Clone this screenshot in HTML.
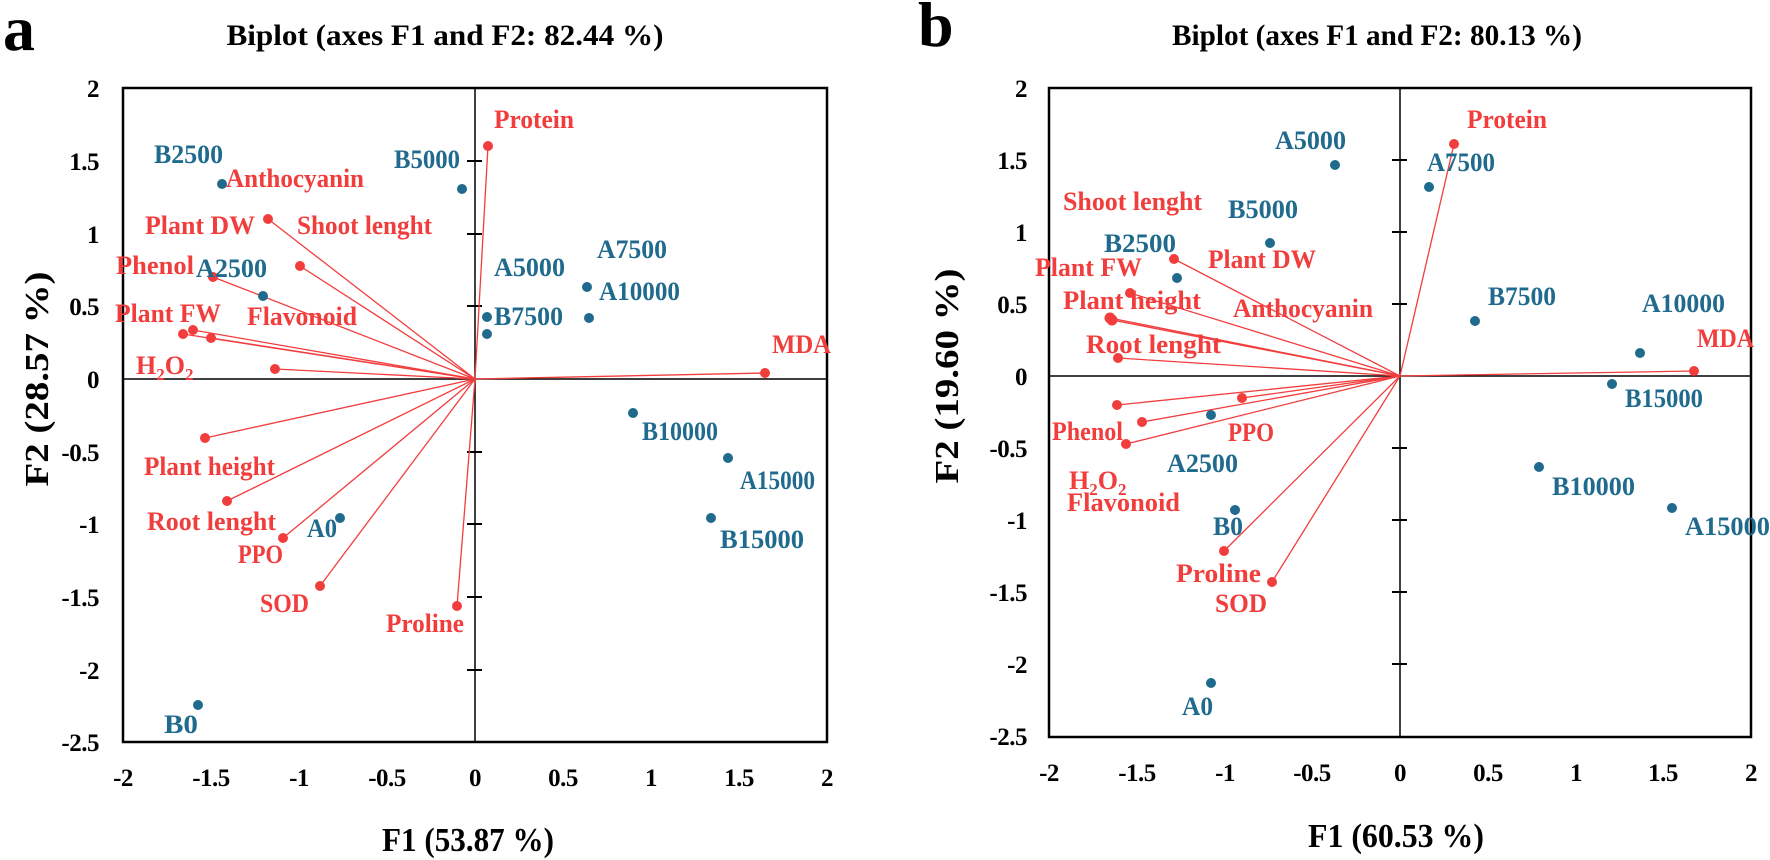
<!DOCTYPE html>
<html><head><meta charset="utf-8"><style>
html,body{margin:0;padding:0;background:#fff;}
svg{display:block;}
text{font-family:"Liberation Serif",serif;font-weight:bold;}
.r{fill:#f23d3d;font-size:26px;}
.b{fill:#1f6a8d;font-size:26px;}
.t{fill:#000;font-size:25px;letter-spacing:-0.5px;}
</style></head><body>
<svg width="1770" height="860" viewBox="0 0 1770 860" xmlns="http://www.w3.org/2000/svg">
<!-- Panel a -->
<text x="3" y="50" style="font-size:64px">a</text>
<text x="445" y="45" text-anchor="middle" textLength="437" lengthAdjust="spacingAndGlyphs" style="font-size:30px">Biplot (axes F1 and F2: 82.44 %)</text>
<rect x="123" y="88" width="704" height="654" fill="none" stroke="#000" stroke-width="2.5"/>
<line x1="123" y1="379" x2="827" y2="379" stroke="#000" stroke-width="1.5"/>
<line x1="475" y1="88" x2="475" y2="742" stroke="#000" stroke-width="1.5"/>
<g stroke="#000" stroke-width="2">
<line x1="467" y1="161" x2="482" y2="161"/><line x1="467" y1="234" x2="482" y2="234"/><line x1="467" y1="306" x2="482" y2="306"/>
<line x1="467" y1="452" x2="482" y2="452"/><line x1="467" y1="524" x2="482" y2="524"/><line x1="467" y1="597" x2="482" y2="597"/><line x1="467" y1="670" x2="482" y2="670"/>
</g>
<g text-anchor="end">
<text x="99" y="97" class="t">2</text><text x="99" y="170" class="t">1.5</text><text x="99" y="243" class="t">1</text><text x="99" y="315" class="t">0.5</text><text x="99" y="388" class="t">0</text><text x="99" y="461" class="t">-0.5</text><text x="99" y="533" class="t">-1</text><text x="99" y="606" class="t">-1.5</text><text x="99" y="679" class="t">-2</text><text x="99" y="751" class="t">-2.5</text>
</g>
<g text-anchor="middle">
<text x="123" y="786" class="t">-2</text><text x="211" y="786" class="t">-1.5</text><text x="299" y="786" class="t">-1</text><text x="387" y="786" class="t">-0.5</text><text x="475" y="786" class="t">0</text><text x="563" y="786" class="t">0.5</text><text x="651" y="786" class="t">1</text><text x="739" y="786" class="t">1.5</text><text x="827" y="786" class="t">2</text>
</g>
<text x="468" y="851" text-anchor="middle" textLength="172" lengthAdjust="spacingAndGlyphs" style="font-size:34px">F1 (53.87 %)</text>
<text transform="translate(48,379) rotate(-90)" text-anchor="middle" textLength="215" lengthAdjust="spacingAndGlyphs" style="font-size:34px">F2 (28.57 %)</text>
<g stroke="#f23d3d" stroke-width="1.3">
<line x1="475" y1="379" x2="488" y2="146"/>
<line x1="475" y1="379" x2="268" y2="219"/>
<line x1="475" y1="379" x2="300" y2="266"/>
<line x1="475" y1="379" x2="213" y2="277"/>
<line x1="475" y1="379" x2="183" y2="334"/>
<line x1="475" y1="379" x2="193" y2="330"/>
<line x1="475" y1="379" x2="211" y2="338"/>
<line x1="475" y1="379" x2="275" y2="369"/>
<line x1="475" y1="379" x2="765" y2="373"/>
<line x1="475" y1="379" x2="205" y2="438"/>
<line x1="475" y1="379" x2="227" y2="501"/>
<line x1="475" y1="379" x2="283" y2="538"/>
<line x1="475" y1="379" x2="320" y2="586"/>
<line x1="475" y1="379" x2="457" y2="606"/>
</g>
<g fill="#f23d3d">
<circle cx="488" cy="146" r="5"/><circle cx="268" cy="219" r="5"/><circle cx="300" cy="266" r="5"/><circle cx="213" cy="277" r="5"/><circle cx="183" cy="334" r="5"/><circle cx="193" cy="330" r="5"/><circle cx="211" cy="338" r="5"/><circle cx="275" cy="369" r="5"/><circle cx="765" cy="373" r="5"/><circle cx="205" cy="438" r="5"/><circle cx="227" cy="501" r="5"/><circle cx="283" cy="538" r="5"/><circle cx="320" cy="586" r="5"/><circle cx="457" cy="606" r="5"/>
</g>
<g fill="#1f6a8d">
<circle cx="222" cy="184" r="5"/><circle cx="462" cy="189" r="5"/><circle cx="263" cy="296" r="5"/><circle cx="487" cy="317" r="5"/><circle cx="487" cy="334" r="5"/><circle cx="587" cy="287" r="5"/><circle cx="589" cy="318" r="5"/><circle cx="633" cy="413" r="5"/><circle cx="728" cy="458" r="5"/><circle cx="711" cy="518" r="5"/><circle cx="340" cy="518" r="5"/><circle cx="198" cy="705" r="5"/>
</g>
<text x="494" y="128" class="r" textLength="80" lengthAdjust="spacingAndGlyphs">Protein</text>
<text x="154" y="163" class="b" textLength="69" lengthAdjust="spacingAndGlyphs">B2500</text>
<text x="226" y="187" class="r" textLength="138" lengthAdjust="spacingAndGlyphs">Anthocyanin</text>
<text x="394" y="168" class="b" textLength="66" lengthAdjust="spacingAndGlyphs">B5000</text>
<text x="145" y="234" class="r" textLength="110" lengthAdjust="spacingAndGlyphs">Plant DW</text>
<text x="297" y="234" class="r" textLength="135" lengthAdjust="spacingAndGlyphs">Shoot lenght</text>
<text x="116" y="274" class="r" textLength="78" lengthAdjust="spacingAndGlyphs">Phenol</text>
<text x="196" y="277" class="b" textLength="71" lengthAdjust="spacingAndGlyphs">A2500</text>
<text x="494" y="276" class="b" textLength="71" lengthAdjust="spacingAndGlyphs">A5000</text>
<text x="597" y="258" class="b" textLength="70" lengthAdjust="spacingAndGlyphs">A7500</text>
<text x="599" y="300" class="b" textLength="81" lengthAdjust="spacingAndGlyphs">A10000</text>
<text x="494" y="325" class="b" textLength="69" lengthAdjust="spacingAndGlyphs">B7500</text>
<text x="247" y="325" class="r" textLength="110" lengthAdjust="spacingAndGlyphs">Flavonoid</text>
<text x="115" y="322" class="r" textLength="106" lengthAdjust="spacingAndGlyphs">Plant FW</text>
<text x="136" y="374" class="r">H<tspan dy="6" style="font-size:17px">2</tspan><tspan dy="-6">O</tspan><tspan dy="6" style="font-size:17px">2</tspan></text>
<text x="772" y="353" class="r" textLength="59" lengthAdjust="spacingAndGlyphs">MDA</text>
<text x="642" y="440" class="b" textLength="76" lengthAdjust="spacingAndGlyphs">B10000</text>
<text x="144" y="475" class="r" textLength="131" lengthAdjust="spacingAndGlyphs">Plant height</text>
<text x="740" y="489" class="b" textLength="75" lengthAdjust="spacingAndGlyphs">A15000</text>
<text x="147" y="530" class="r" textLength="129" lengthAdjust="spacingAndGlyphs">Root lenght</text>
<text x="307" y="537" class="b" textLength="30" lengthAdjust="spacingAndGlyphs">A0</text>
<text x="720" y="548" class="b" textLength="84" lengthAdjust="spacingAndGlyphs">B15000</text>
<text x="238" y="563" class="r" textLength="45" lengthAdjust="spacingAndGlyphs">PPO</text>
<text x="260" y="612" class="r" textLength="49" lengthAdjust="spacingAndGlyphs">SOD</text>
<text x="386" y="632" class="r" textLength="78" lengthAdjust="spacingAndGlyphs">Proline</text>
<text x="164" y="733" class="b" textLength="34" lengthAdjust="spacingAndGlyphs">B0</text>

<!-- Panel b -->
<text x="918" y="46" style="font-size:64px">b</text>
<text x="1377" y="45" text-anchor="middle" textLength="410" lengthAdjust="spacingAndGlyphs" style="font-size:30px">Biplot (axes F1 and F2: 80.13 %)</text>
<rect x="1049" y="88" width="702" height="649" fill="none" stroke="#000" stroke-width="2.5"/>
<line x1="1049" y1="376" x2="1751" y2="376" stroke="#000" stroke-width="1.5"/>
<line x1="1400" y1="88" x2="1400" y2="737" stroke="#000" stroke-width="1.5"/>
<g stroke="#000" stroke-width="2">
<line x1="1392" y1="160" x2="1407" y2="160"/><line x1="1392" y1="232" x2="1407" y2="232"/><line x1="1392" y1="304" x2="1407" y2="304"/>
<line x1="1392" y1="448" x2="1407" y2="448"/><line x1="1392" y1="520" x2="1407" y2="520"/><line x1="1392" y1="592" x2="1407" y2="592"/><line x1="1392" y1="664" x2="1407" y2="664"/>
</g>
<g text-anchor="end">
<text x="1027" y="97" class="t">2</text><text x="1027" y="169" class="t">1.5</text><text x="1027" y="241" class="t">1</text><text x="1027" y="313" class="t">0.5</text><text x="1027" y="385" class="t">0</text><text x="1027" y="457" class="t">-0.5</text><text x="1027" y="529" class="t">-1</text><text x="1027" y="601" class="t">-1.5</text><text x="1027" y="673" class="t">-2</text><text x="1027" y="745" class="t">-2.5</text>
</g>
<g text-anchor="middle">
<text x="1049" y="781" class="t">-2</text><text x="1137" y="781" class="t">-1.5</text><text x="1225" y="781" class="t">-1</text><text x="1312" y="781" class="t">-0.5</text><text x="1400" y="781" class="t">0</text><text x="1488" y="781" class="t">0.5</text><text x="1576" y="781" class="t">1</text><text x="1663" y="781" class="t">1.5</text><text x="1751" y="781" class="t">2</text>
</g>
<text x="1396" y="847" text-anchor="middle" textLength="176" lengthAdjust="spacingAndGlyphs" style="font-size:34px">F1 (60.53 %)</text>
<text transform="translate(958,376) rotate(-90)" text-anchor="middle" textLength="215" lengthAdjust="spacingAndGlyphs" style="font-size:34px">F2 (19.60 %)</text>
<g stroke="#f23d3d" stroke-width="1.3">
<line x1="1400" y1="376" x2="1454" y2="144"/>
<line x1="1400" y1="376" x2="1174" y2="259"/>
<line x1="1400" y1="376" x2="1130" y2="293"/>
<line x1="1400" y1="376" x2="1110" y2="318"/>
<line x1="1400" y1="376" x2="1112" y2="320"/>
<line x1="1400" y1="376" x2="1118" y2="358"/>
<line x1="1400" y1="376" x2="1694" y2="371"/>
<line x1="1400" y1="376" x2="1242" y2="398"/>
<line x1="1400" y1="376" x2="1117" y2="405"/>
<line x1="1400" y1="376" x2="1142" y2="422"/>
<line x1="1400" y1="376" x2="1126" y2="444"/>
<line x1="1400" y1="376" x2="1224" y2="551"/>
<line x1="1400" y1="376" x2="1272" y2="582"/>
</g>
<g fill="#f23d3d">
<circle cx="1454" cy="144" r="5"/><circle cx="1174" cy="259" r="5"/><circle cx="1130" cy="293" r="5"/><circle cx="1110" cy="318" r="5.5"/><circle cx="1112" cy="320" r="5.5"/><circle cx="1118" cy="358" r="5"/><circle cx="1694" cy="371" r="5"/><circle cx="1242" cy="398" r="5"/><circle cx="1117" cy="405" r="5"/><circle cx="1142" cy="422" r="5"/><circle cx="1126" cy="444" r="5"/><circle cx="1224" cy="551" r="5"/><circle cx="1272" cy="582" r="5"/>
</g>
<g fill="#1f6a8d">
<circle cx="1335" cy="165" r="5"/><circle cx="1429" cy="187" r="5"/><circle cx="1270" cy="243" r="5"/><circle cx="1177" cy="278" r="5"/><circle cx="1475" cy="321" r="5"/><circle cx="1640" cy="353" r="5"/><circle cx="1612" cy="384" r="5"/><circle cx="1211" cy="415" r="5"/><circle cx="1235" cy="510" r="5"/><circle cx="1539" cy="467" r="5"/><circle cx="1672" cy="508" r="5"/><circle cx="1211" cy="683" r="5"/>
</g>
<text x="1467" y="128" class="r" textLength="80" lengthAdjust="spacingAndGlyphs">Protein</text>
<text x="1275" y="149" class="b" textLength="71" lengthAdjust="spacingAndGlyphs">A5000</text>
<text x="1427" y="171" class="b" textLength="68" lengthAdjust="spacingAndGlyphs">A7500</text>
<text x="1063" y="210" class="r" textLength="139" lengthAdjust="spacingAndGlyphs">Shoot lenght</text>
<text x="1228" y="218" class="b" textLength="70" lengthAdjust="spacingAndGlyphs">B5000</text>
<text x="1104" y="252" class="b" textLength="72" lengthAdjust="spacingAndGlyphs">B2500</text>
<text x="1208" y="268" class="r" textLength="108" lengthAdjust="spacingAndGlyphs">Plant DW</text>
<text x="1035" y="276" class="r" textLength="107" lengthAdjust="spacingAndGlyphs">Plant FW</text>
<text x="1063" y="309" class="r" textLength="138" lengthAdjust="spacingAndGlyphs">Plant height</text>
<text x="1233" y="317" class="r" textLength="140" lengthAdjust="spacingAndGlyphs">Anthocyanin</text>
<text x="1488" y="305" class="b" textLength="68" lengthAdjust="spacingAndGlyphs">B7500</text>
<text x="1642" y="312" class="b" textLength="83" lengthAdjust="spacingAndGlyphs">A10000</text>
<text x="1697" y="347" class="r" textLength="57" lengthAdjust="spacingAndGlyphs">MDA</text>
<text x="1086" y="353" class="r" textLength="135" lengthAdjust="spacingAndGlyphs">Root lenght</text>
<text x="1625" y="407" class="b" textLength="78" lengthAdjust="spacingAndGlyphs">B15000</text>
<text x="1052" y="440" class="r" textLength="71" lengthAdjust="spacingAndGlyphs">Phenol</text>
<text x="1228" y="441" class="r" textLength="46" lengthAdjust="spacingAndGlyphs">PPO</text>
<text x="1167" y="472" class="b" textLength="71" lengthAdjust="spacingAndGlyphs">A2500</text>
<text x="1069" y="489" class="r">H<tspan dy="6" style="font-size:17px">2</tspan><tspan dy="-6">O</tspan><tspan dy="6" style="font-size:17px">2</tspan></text>
<text x="1067" y="511" class="r" textLength="113" lengthAdjust="spacingAndGlyphs">Flavonoid</text>
<text x="1552" y="495" class="b" textLength="83" lengthAdjust="spacingAndGlyphs">B10000</text>
<text x="1213" y="535" class="b" textLength="30" lengthAdjust="spacingAndGlyphs">B0</text>
<text x="1685" y="535" class="b" textLength="85" lengthAdjust="spacingAndGlyphs">A15000</text>
<text x="1176" y="582" class="r" textLength="85" lengthAdjust="spacingAndGlyphs">Proline</text>
<text x="1215" y="612" class="r" textLength="52" lengthAdjust="spacingAndGlyphs">SOD</text>
<text x="1182" y="715" class="b" textLength="31" lengthAdjust="spacingAndGlyphs">A0</text>
</svg>
</body></html>
